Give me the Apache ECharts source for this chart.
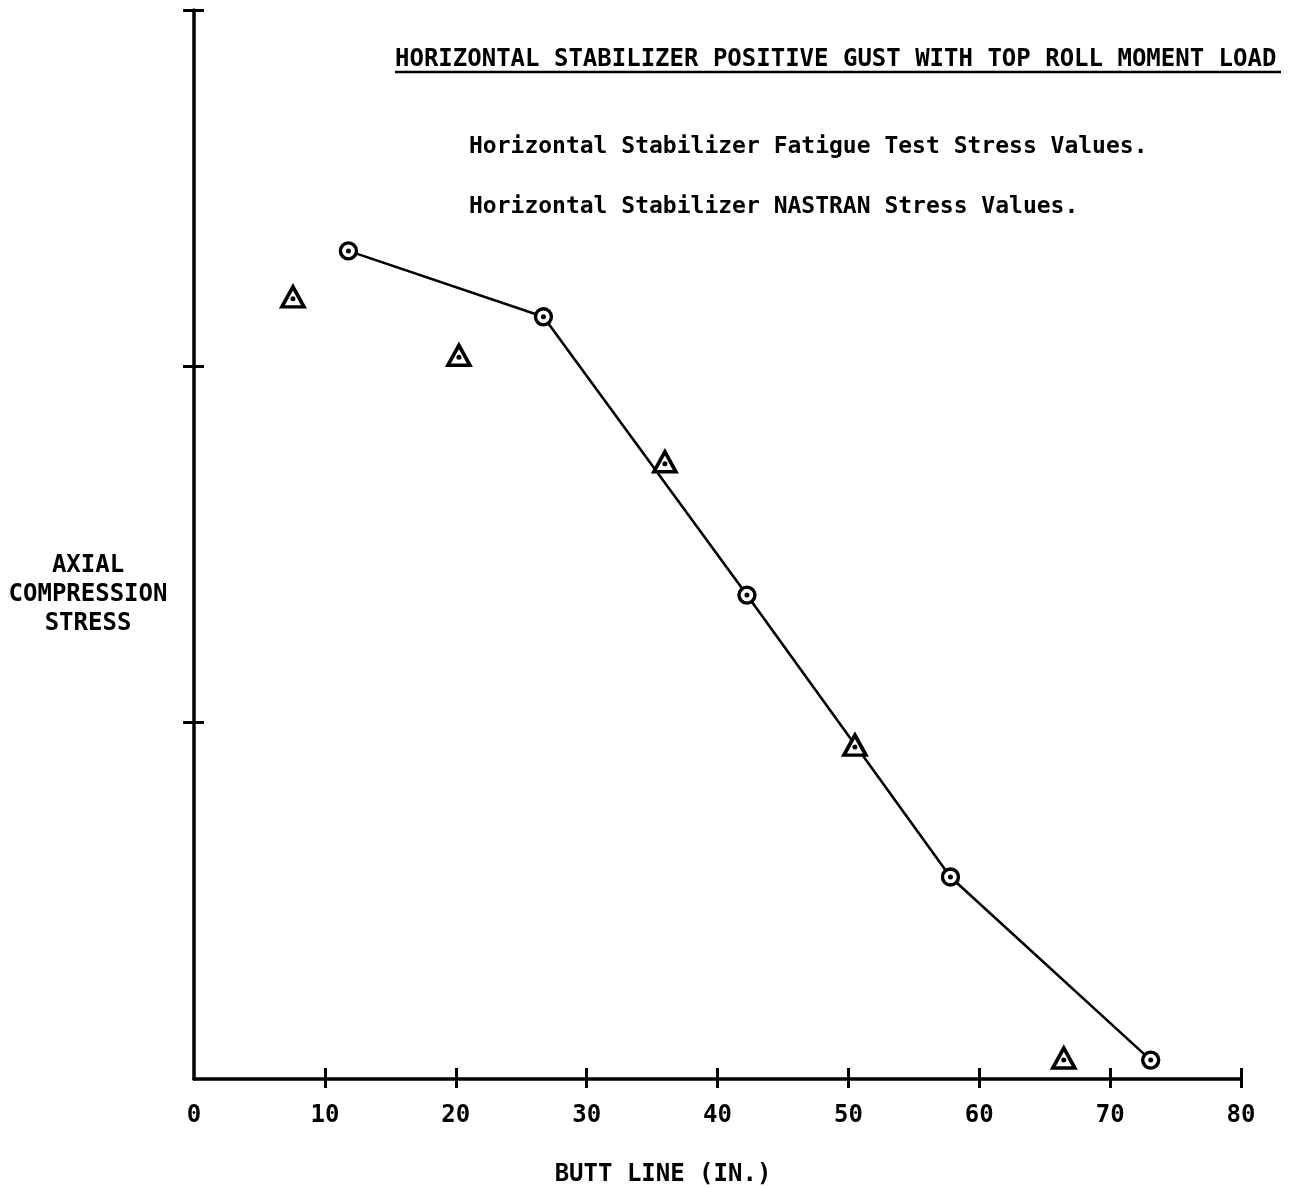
<!DOCTYPE html>
<html>
<head>
<meta charset="utf-8">
<script src="https://cdn.jsdelivr.net/npm/echarts@6/dist/echarts.min.js"></script>
<style>
html,body{margin:0;padding:0;background:#fff;}
#chart{width:1296px;height:1189px;}
</style>
</head>
<body>
<div id="chart"></div>
<script>
// Data
var nastranX = [11.8, 26.7, 42.25, 57.8, 73.1];
var nastranY = [2.324, 2.139, 1.358, 0.567, 0.053];
var fatigueX = [7.56, 20.24, 35.98, 50.5, 66.46];
var fatigueY = [2.195, 2.031, 1.732, 0.937, 0.059];
var xTickValues = [10, 20, 30, 40, 50, 60, 70, 80];
var xLabelValues = [0, 10, 20, 30, 40, 50, 60, 70, 80];
var yTickValues = [1, 2, 3];

var titleText = 'HORIZONTAL STABILIZER POSITIVE GUST WITH TOP ROLL MOMENT LOAD';
var legendFatigue = 'Horizontal Stabilizer Fatigue Test Stress Values.';
var legendNastran = 'Horizontal Stabilizer NASTRAN Stress Values.';
var yName = 'AXIAL\nCOMPRESSION\nSTRESS';
var xName = 'BUTT LINE (IN.)';

function pairs(xs, ys) { return xs.map(function (x, i) { return [x, ys[i]]; }); }
var nastran = pairs(nastranX, nastranY);
var fatigue = pairs(fatigueX, fatigueY);

var FONT = '"DejaVu Sans Mono", monospace';
var chart = echarts.init(document.getElementById('chart'));

var axisLineStyle = { color: '#000', width: 3.5 };

chart.setOption({
  backgroundColor: '#fff',
  animation: false,
  grid: { left: 194, right: 55, top: 10, bottom: 110, containLabel: false },
  xAxis: [{
    type: 'value', min: 0, max: 80, position: 'bottom',
    axisLine: { show: true, lineStyle: axisLineStyle },
    axisTick: { show: true, inside: false, length: 9, lineStyle: { color: '#000', width: 3 }, customValues: xTickValues },
    axisLabel: { show: true, color: '#000', fontFamily: FONT, fontWeight: 'bold', fontSize: 24, margin: 25, customValues: xLabelValues },
    splitLine: { show: false }
  }, {
    type: 'value', min: 0, max: 80, position: 'bottom', offset: 0,
    axisLine: { show: false },
    axisTick: { show: true, inside: true, length: 11, lineStyle: { color: '#000', width: 3 }, customValues: xTickValues },
    axisLabel: { show: false },
    splitLine: { show: false }
  }],
  yAxis: [{
    type: 'value', min: 0, max: 3, position: 'left',
    axisLine: { show: true, lineStyle: axisLineStyle },
    axisTick: { show: true, inside: false, length: 11, lineStyle: { color: '#000', width: 3 }, customValues: yTickValues },
    axisLabel: { show: false },
    splitLine: { show: false }
  }, {
    type: 'value', min: 0, max: 3, position: 'left', offset: 0,
    axisLine: { show: false },
    axisTick: { show: true, inside: true, length: 10, lineStyle: { color: '#000', width: 3 }, customValues: yTickValues },
    axisLabel: { show: false },
    splitLine: { show: false }
  }],
  series: [{
    name: 'NASTRAN',
    type: 'line',
    data: nastran,
    symbol: 'circle',
    symbolSize: 16,
    lineStyle: { color: '#000', width: 2.6 },
    itemStyle: { color: '#fff', borderColor: '#000', borderWidth: 3.4, opacity: 1 },
    z: 3
  }, {
    name: 'NASTRAN dot',
    type: 'scatter',
    data: nastran,
    symbol: 'circle',
    symbolSize: 5,
    itemStyle: { color: '#000', opacity: 1 },
    z: 4
  }, {
    name: 'Fatigue',
    type: 'scatter',
    data: fatigue,
    symbol: 'triangle',
    symbolSize: [22, 20],
    itemStyle: { color: '#fff', borderColor: '#000', borderWidth: 3.6, opacity: 1 },
    z: 3
  }, {
    name: 'Fatigue dot',
    type: 'scatter',
    data: fatigue,
    symbol: 'circle',
    symbolSize: 5,
    symbolOffset: [0, 2],
    itemStyle: { color: '#000', opacity: 1 },
    z: 4
  }],
  graphic: [{
    type: 'text', left: 395, top: 48,
    style: { text: titleText, fill: '#000', font: 'bold 24px ' + FONT }
  }, {
    type: 'line', shape: { x1: 395, y1: 72, x2: 1281, y2: 72 },
    style: { stroke: '#000', lineWidth: 2.5 }
  }, {
    type: 'text', left: 469, top: 136,
    style: { text: legendFatigue, fill: '#000', font: 'bold 23px ' + FONT }
  }, {
    type: 'text', left: 469, top: 196,
    style: { text: legendNastran, fill: '#000', font: 'bold 23px ' + FONT }
  }, {
    type: 'text', x: 88, y: 595,
    style: { text: yName, fill: '#000', font: 'bold 24px ' + FONT, align: 'center', verticalAlign: 'middle', lineHeight: 29 }
  }, {
    type: 'text', x: 663, y: 1175,
    style: { text: xName, fill: '#000', font: 'bold 24px ' + FONT, align: 'center', verticalAlign: 'middle' }
  }]
});
</script>
</body>
</html>
